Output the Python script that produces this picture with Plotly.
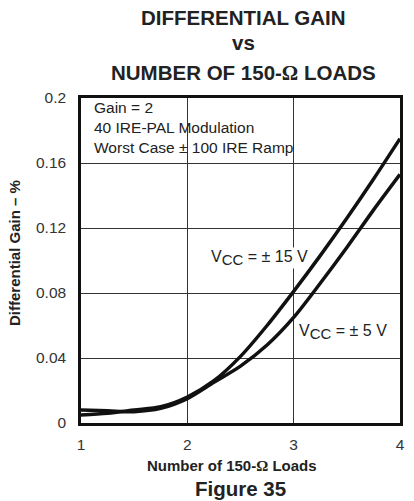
import plotly.graph_objects as go

# Number of 150-ohm loads
loads = [1, 1.25, 1.5, 1.75, 2, 2.25, 2.5, 2.75, 3, 3.25, 3.5, 3.75, 4]
# Differential gain (%) for each supply
gain_15v = [0.005, 0.006, 0.008, 0.010, 0.016, 0.026, 0.041, 0.060, 0.081, 0.103, 0.126, 0.150, 0.175]
gain_5v = [0.008, 0.0075, 0.007, 0.009, 0.015, 0.025, 0.035, 0.048, 0.065, 0.086, 0.108, 0.131, 0.153]

y_ticks = [0, 0.04, 0.08, 0.12, 0.16, 0.2]
y_tick_text = ["0", "0.04", "0.08", "0.12", "0.16", "0.2"]
x_ticks = [1, 2, 3, 4]

title_lines = ["DIFFERENTIAL GAIN", "vs", "NUMBER OF 150-Ω LOADS"]
conditions = ["Gain = 2", "40 IRE-PAL Modulation", "Worst Case ± 100 IRE Ramp"]

FONT = "Liberation Sans, Arial, sans-serif"
INK = "#222222"


def omega_serif(text):
    return text.replace("Ω", "<span style=\"font-family:'Liberation Serif'\">Ω</span>")


fig = go.Figure()
for ys in (gain_15v, gain_5v):
    fig.add_trace(go.Scatter(
        x=loads, y=ys, mode="lines",
        line=dict(color="#111111", width=3.5, shape="spline", smoothing=0.8),
        showlegend=False, hoverinfo="skip",
    ))

# White panel behind the test conditions (hides the grid there)
fig.add_shape(type="rect", xref="x", yref="y", x0=1, x1=2.95, y0=0.1645, y1=0.198,
              fillcolor="white", line=dict(width=0), layer="below")

for i, t in enumerate(conditions):
    fig.add_annotation(x=0.035, y=(423 - 107 - 20 * i) / 325, xref="paper", yref="paper",
                       text=t, showarrow=False, xanchor="left", yanchor="middle",
                       font=dict(family=FONT, size=15.5, color=INK))

# Curve labels (white background breaks the grid behind them)
sub_cc = "V<sub><span style='font-size:15px'>CC</span></sub>"
fig.add_annotation(x=2.215, y=0.1015, text=f"{sub_cc} = ± 15 V", showarrow=False,
                   xanchor="left", yanchor="middle", bgcolor="white", borderpad=0,
                   font=dict(family=FONT, size=16, color=INK))
fig.add_annotation(x=3.04, y=0.056, text=f"{sub_cc} = ± 5 V", showarrow=False,
                   xanchor="left", yanchor="middle", bgcolor="white", borderpad=0,
                   font=dict(family=FONT, size=16, color=INK))

# Three-line heading above the plot
for yp, line in zip([1.247, 1.170, 1.078], title_lines):
    fig.add_annotation(x=0.509, y=yp, xref="paper", yref="paper", text=f"<b>{omega_serif(line)}</b>",
                       showarrow=False, xanchor="center", yanchor="middle",
                       font=dict(family=FONT, size=20.5, color=INK))

# Axis titles and figure caption
fig.add_annotation(x=0.472, y=-0.132, xref="paper", yref="paper",
                   text=f"<b>{omega_serif('Number of 150-Ω Loads')}</b>",
                   showarrow=False, xanchor="center", yanchor="middle",
                   font=dict(family=FONT, size=15, color=INK))
fig.add_annotation(x=-0.21, y=0.523, xref="paper", yref="paper",
                   text="<b>Differential Gain – %</b>", textangle=-90,
                   showarrow=False, xanchor="center", yanchor="middle",
                   font=dict(family=FONT, size=15, color=INK))
fig.add_annotation(x=0.5, y=-0.201, xref="paper", yref="paper", text="<b>Figure 35</b>",
                   showarrow=False, xanchor="center", yanchor="middle",
                   font=dict(family=FONT, size=20.5, color=INK))

fig.update_layout(
    width=414, height=501,
    margin=dict(l=81, r=9, t=98, b=78),
    paper_bgcolor="white", plot_bgcolor="white",
    font=dict(family=FONT, size=15.5, color=INK),
    xaxis=dict(
        range=[1, 4], tickvals=x_ticks, ticks="", showgrid=True,
        gridcolor="#333333", gridwidth=1, zeroline=False,
        showline=True, mirror=True, linecolor="#111111", linewidth=2.5,
        tickfont=dict(size=15.5, color="#333333"), ticklabelstandoff=6,
    ),
    yaxis=dict(
        range=[0, 0.2], tickvals=y_ticks, ticktext=y_tick_text, ticks="", showgrid=True,
        gridcolor="#333333", gridwidth=1, zeroline=False,
        showline=True, mirror=True, linecolor="#111111", linewidth=2.5,
        tickfont=dict(size=15.5, color="#333333"), ticklabelstandoff=9,
    ),
)

fig.write_html("out.html")
